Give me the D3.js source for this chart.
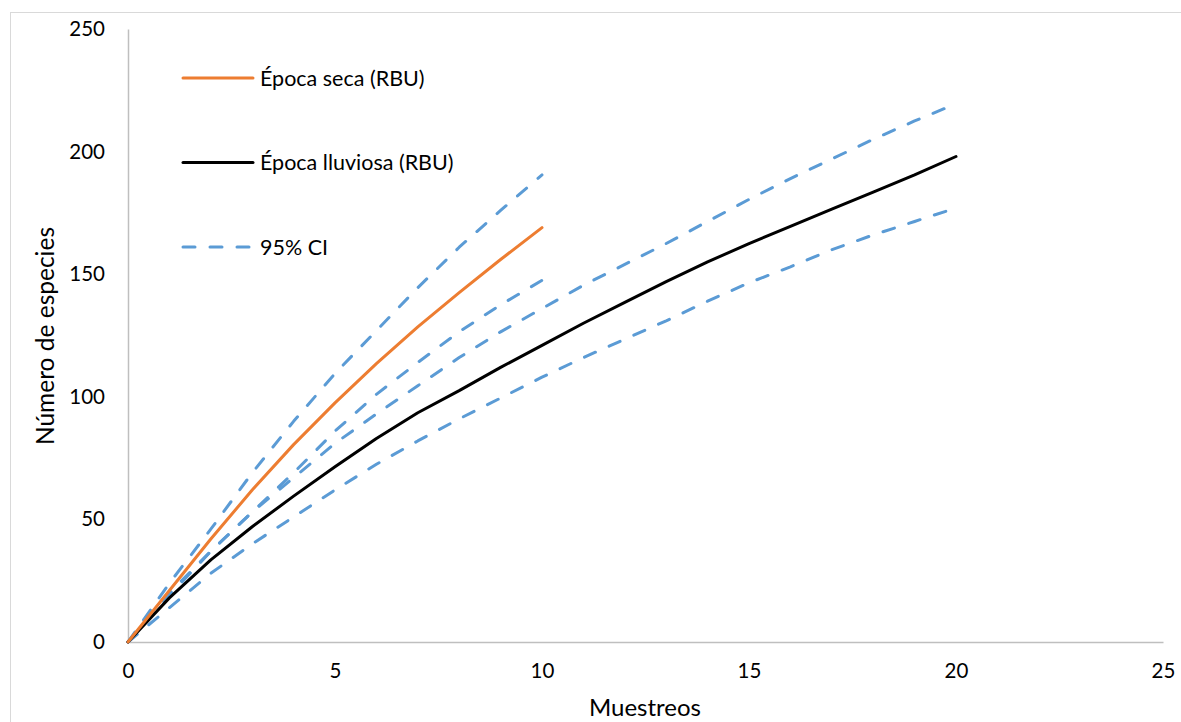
<!DOCTYPE html>
<html>
<head>
<meta charset="utf-8">
<script src="https://cdn.jsdelivr.net/npm/d3@7"></script>
<style>
    body { margin: 0; background: #fff; }
    svg { display: block; font-family: Lato, "Open Sans", sans-serif; }
</style>
</head>
<body>
<div id="chart"></div>
<script>
// x values (muestreos)
let dryX = [0, 1, 2, 3, 4, 5, 6, 7, 8, 9, 10];
let wetX = [0, 1, 2, 3, 4, 5, 6, 7, 8, 9, 10, 11, 12, 13, 14, 15, 16, 17, 18, 19, 20];

// Época seca (RBU) + 95% CI
let dryMean  = [0, 21, 42, 62, 80.5, 97.5, 113.5, 128.5, 142.5, 156, 169];
let dryUpper = [0, 24, 46, 69, 90, 109.5, 127, 144.5, 161, 176, 190.5];
let dryLower = [0, 19, 37, 53, 69, 86, 101, 114, 126.5, 137.5, 147.5];

// Época lluviosa (RBU) + 95% CI
let wetMean  = [0, 18, 33.5, 47, 59.5, 71.5, 83, 93.5, 102.5, 112, 121, 130, 138.5, 147, 155, 162.5, 169.5, 176.5, 183.5, 190.5, 198];
let wetUpper = [0, 20, 37, 53, 67, 81, 93, 104.5, 116, 126.5, 136, 145.5, 154, 162.5, 171.5, 180.5, 189, 197, 205, 212.5, 219.5];
let wetLower = [0, 14, 28, 40, 51, 62, 72.5, 82, 91, 99.5, 108, 116, 123.5, 131, 139, 146.5, 153, 160, 166, 171.5, 177];

let xTicks = [0, 5, 10, 15, 20, 25];
let yTicks = [0, 50, 100, 150, 200, 250];

let legendItems = [
    {label: "Época seca (RBU)", color: "#ED7D31", dash: null},
    {label: "Época lluviosa (RBU)", color: "#000000", dash: null},
    {label: "95% CI", color: "#5B9BD5", dash: "12,15"}
];

let W = 1181, H = 722;

let svg = d3.select("#chart").append("svg")
    .attr("width", W)
    .attr("height", H);

// chart area border
svg.append("rect")
    .attr("x", 10.5).attr("y", 12.5)
    .attr("width", 1400).attr("height", 900)
    .attr("fill", "none")
    .attr("stroke", "#D9D9D9")
    .attr("stroke-width", 1);

let x = d3.scaleLinear().domain([0, 25]).range([128, 1163]);
let y = d3.scaleLinear().domain([0, 250]).range([642, 29]);

// axes (no tick marks, just line + labels)
let xAxis = svg.append("g")
    .attr("transform", "translate(0," + y(0) + ")")
    .call(d3.axisBottom(x).tickValues(xTicks).tickSize(0).tickPadding(21));
let yAxis = svg.append("g")
    .attr("transform", "translate(" + x(0) + ",0)")
    .call(d3.axisLeft(y).tickValues(yTicks).tickSize(0).tickPadding(23));

[xAxis, yAxis].forEach(function(g) {
    g.select(".domain").attr("stroke", "#BFBFBF").attr("stroke-width", 1.5);
    g.selectAll("text")
        .attr("font-size", 20.5)
        .attr("font-family", "Lato, sans-serif")
        .attr("fill", "#000");
});

// axis titles
svg.append("text")
    .attr("x", 645).attr("y", 716)
    .attr("text-anchor", "middle")
    .attr("font-size", 24)
    .text("Muestreos");

svg.append("text")
    .attr("transform", "translate(54,336) rotate(-90)")
    .attr("text-anchor", "middle")
    .attr("font-size", 24.5)
    .text("Número de especies");

let line = d3.line()
    .x(d => x(d[0]))
    .y(d => y(d[1]));

function zip(xs, ys) { return xs.map((v, i) => [v, ys[i]]); }

let series = [
    {pts: zip(dryX, dryUpper), color: "#5B9BD5", dash: "12,15"},
    {pts: zip(dryX, dryLower), color: "#5B9BD5", dash: "12,15"},
    {pts: zip(wetX, wetUpper), color: "#5B9BD5", dash: "12,15"},
    {pts: zip(wetX, wetLower), color: "#5B9BD5", dash: "12,15"},
    {pts: zip(wetX, wetMean), color: "#000000", dash: null},
    {pts: zip(dryX, dryMean), color: "#ED7D31", dash: null}
];

svg.append("g").selectAll("path")
    .data(series)
    .enter().append("path")
    .attr("d", d => line(d.pts))
    .attr("fill", "none")
    .attr("stroke", d => d.color)
    .attr("stroke-width", 3)
    .attr("stroke-linecap", "round")
    .attr("stroke-linejoin", "round")
    .attr("stroke-dasharray", d => d.dash);

// legend
let legend = svg.append("g").selectAll("g")
    .data(legendItems)
    .enter().append("g")
    .attr("transform", (d, i) => "translate(183," + (78 + i * 84.5) + ")");

legend.append("line")
    .attr("x1", 0).attr("x2", 70)
    .attr("stroke", d => d.color)
    .attr("stroke-width", 3)
    .attr("stroke-linecap", "round")
    .attr("stroke-dasharray", d => d.dash);

legend.append("text")
    .attr("x", 77).attr("y", 0)
    .attr("dy", "0.35em")
    .attr("font-size", 21.5)
    .text(d => d.label);
</script>
</body>
</html>
